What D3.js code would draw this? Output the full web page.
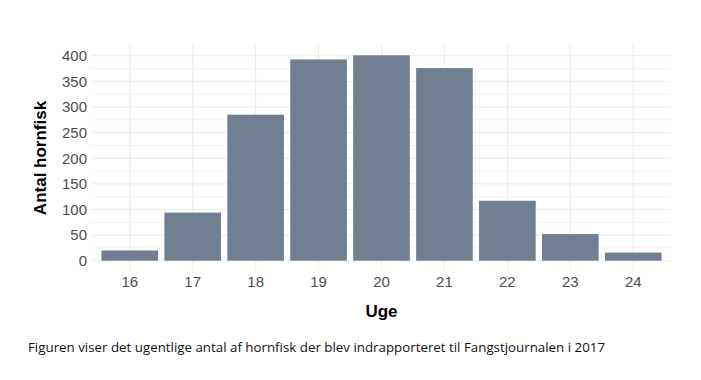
<!DOCTYPE html>
<html>
<head>
<meta charset="utf-8">
<script src="https://cdn.jsdelivr.net/npm/d3@7"></script>
<style>
  body { margin: 0; background: #fff; }
</style>
</head>
<body>
<svg id="chart"></svg>
<script>
var weeks = ["16", "17", "18", "19", "20", "21", "22", "23", "24"];
var counts = [20, 94, 285, 393, 401, 376, 117, 52, 16];
var yTicks = [0, 50, 100, 150, 200, 250, 300, 350, 400];
var yMinor = [25, 75, 125, 175, 225, 275, 325, 375];

var W = 701, H = 380;
var margin = {top: 45, right: 30, bottom: 109, left: 92};
var width = W - margin.left - margin.right,
    height = H - margin.top - margin.bottom;

var svg = d3.select("#chart")
    .attr("width", W)
    .attr("height", H);

var g = svg.append("g")
    .attr("transform", "translate(" + margin.left + "," + margin.top + ")");

// ggplot style discrete expansion: 0.6 of a step on each side
var x = d3.scaleBand()
    .domain(weeks)
    .range([0, width])
    .paddingInner(0.1)
    .paddingOuter(0.15);

var yMax = d3.max(counts);
var y = d3.scaleLinear()
    .domain([-yMax * 0.05, yMax * 1.05])
    .range([height, 0]);

// grid
g.append("g").selectAll("line.minor")
  .data(yMinor).enter().append("line")
    .attr("x1", 0).attr("x2", width)
    .attr("y1", function(d) { return y(d); })
    .attr("y2", function(d) { return y(d); })
    .attr("stroke", "#f2f2f2")
    .attr("stroke-width", 1);

g.append("g").selectAll("line.major")
  .data(yTicks).enter().append("line")
    .attr("x1", 0).attr("x2", width)
    .attr("y1", function(d) { return y(d); })
    .attr("y2", function(d) { return y(d); })
    .attr("stroke", "#ebebeb")
    .attr("stroke-width", 1);

g.append("g").selectAll("line.vert")
  .data(weeks).enter().append("line")
    .attr("x1", function(d) { return x(d) + x.bandwidth() / 2; })
    .attr("x2", function(d) { return x(d) + x.bandwidth() / 2; })
    .attr("y1", 0).attr("y2", height)
    .attr("stroke", "#ebebeb")
    .attr("stroke-width", 1);

// bars
g.append("g").selectAll("rect")
  .data(counts).enter().append("rect")
    .attr("x", function(d, i) { return x(weeks[i]); })
    .attr("width", x.bandwidth())
    .attr("y", function(d) { return y(d); })
    .attr("height", function(d) { return y(0) - y(d); })
    .style("fill", "#708090");

// axes
var xAxis = g.append("g")
    .attr("transform", "translate(0," + height + ")")
    .call(d3.axisBottom(x).tickSize(0).tickPadding(5));
xAxis.select(".domain").remove();
xAxis.selectAll("text")
    .style("font-family", "Liberation Sans, Arial, sans-serif")
    .style("font-size", "15px")
    .style("fill", "#4d4d4d");

var yAxis = g.append("g")
    .call(d3.axisLeft(y).tickValues(yTicks).tickSize(0).tickPadding(5));
yAxis.select(".domain").remove();
yAxis.selectAll("text")
    .style("font-family", "Liberation Sans, Arial, sans-serif")
    .style("font-size", "15px")
    .style("fill", "#4d4d4d");

// axis titles
svg.append("text")
    .attr("x", margin.left + width / 2)
    .attr("y", 317)
    .attr("text-anchor", "middle")
    .style("font-family", "Liberation Sans, Arial, sans-serif")
    .style("font-weight", "bold")
    .style("font-size", "17px")
    .style("fill", "#000")
    .text("Uge");

svg.append("text")
    .attr("transform", "translate(46,158) rotate(-90)")
    .attr("text-anchor", "middle")
    .style("font-family", "Liberation Sans, Arial, sans-serif")
    .style("font-weight", "bold")
    .style("font-size", "17px")
    .style("fill", "#000")
    .text("Antal hornfisk");

// caption
svg.append("text")
    .attr("x", 28)
    .attr("y", 352)
    .attr("textLength", 577)
    .attr("lengthAdjust", "spacingAndGlyphs")
    .style("font-family", "Open Sans, sans-serif")
    .style("font-size", "13px")
    .style("fill", "#111")
    .text("Figuren viser det ugentlige antal af hornfisk der blev indrapporteret til Fangstjournalen i 2017");
</script>
</body>
</html>
